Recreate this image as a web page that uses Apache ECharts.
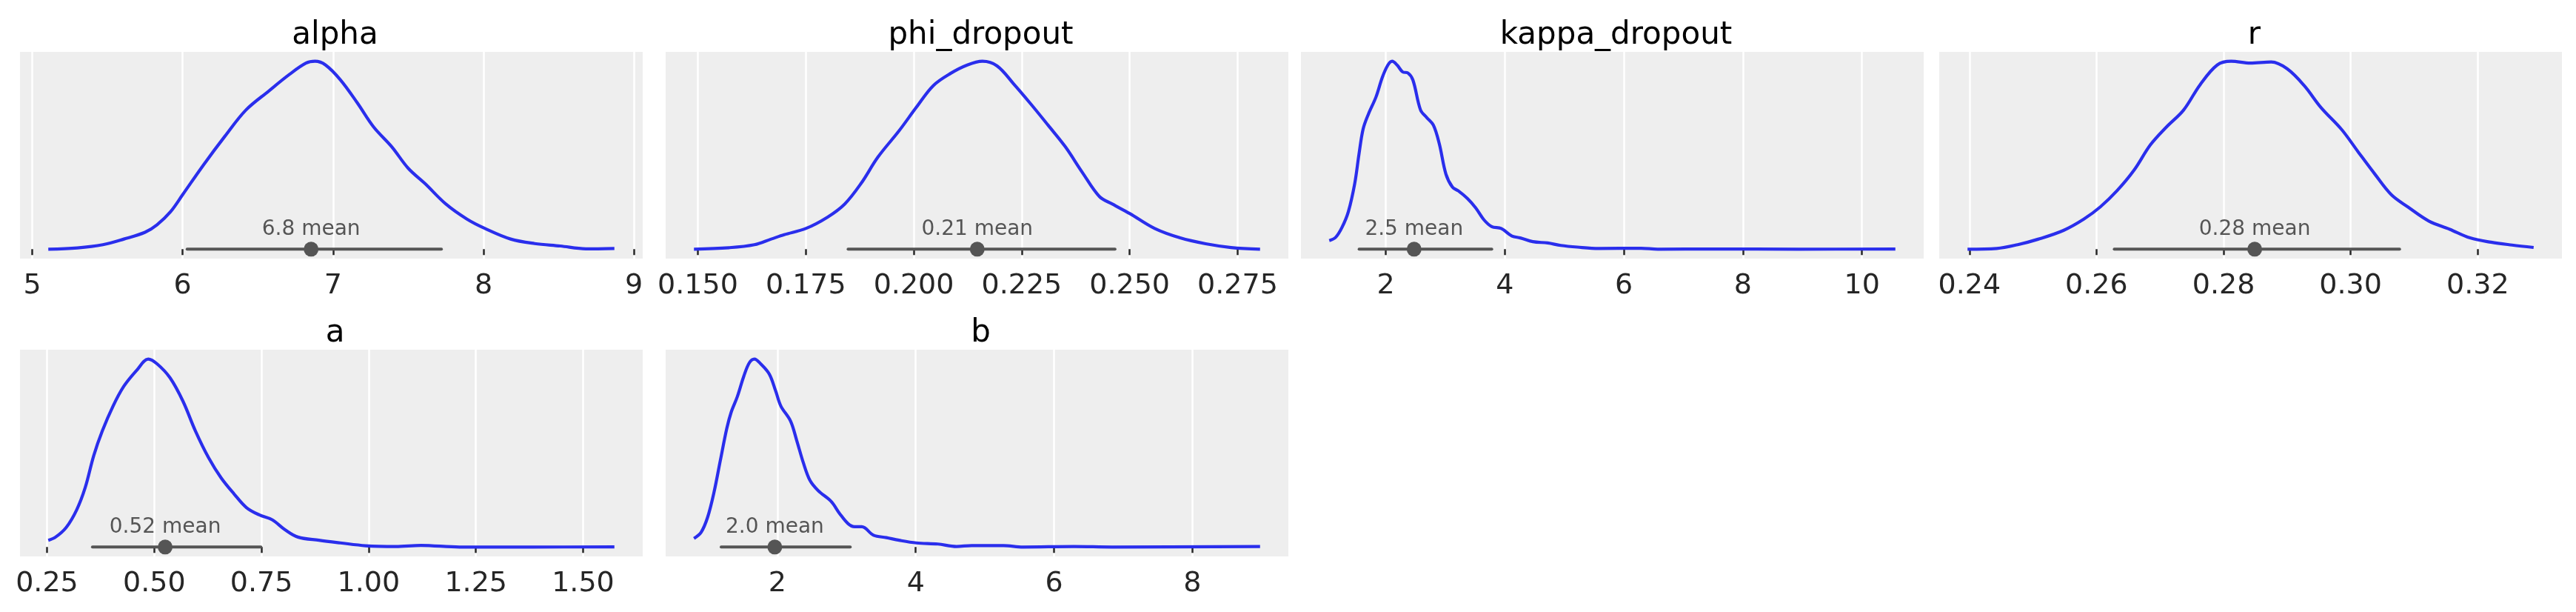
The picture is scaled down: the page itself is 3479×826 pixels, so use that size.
<!DOCTYPE html>
<html>
<head>
<meta charset="utf-8">
<title>posterior</title>
<script src="https://cdn.jsdelivr.net/npm/echarts@6.0.0/dist/echarts.min.js"></script>
<style>
  html,body{margin:0;padding:0;background:#fff;}
  #main{width:3479px;height:826px;}
</style>
</head>
<body>
<div id="main"></div>
<script>
// 后验密度曲线 (x, 归一化密度)
var alphaPts = [[5.107,0],[5.30,0.007],[5.47,0.024],[5.61,0.054],[5.75,0.09],[5.83,0.13],[5.92,0.20],[6.00,0.29],[6.14,0.45],[6.28,0.60],[6.42,0.74],[6.57,0.84],[6.71,0.93],[6.82,0.99],[6.88,1.0],[6.95,0.98],[7.05,0.90],[7.16,0.78],[7.27,0.65],[7.39,0.545],[7.50,0.43],[7.61,0.35],[7.75,0.24],[7.89,0.16],[8.01,0.11],[8.18,0.054],[8.34,0.03],[8.51,0.017],[8.68,0.002],[8.87,0.004]];
var phiPts = [[0.1491,0],[0.1572,0.008],[0.1631,0.024],[0.167,0.054],[0.170,0.077],[0.175,0.11],[0.180,0.17],[0.184,0.24],[0.1878,0.35],[0.1917,0.49],[0.1966,0.63],[0.2006,0.755],[0.2045,0.87],[0.2085,0.935],[0.2124,0.98],[0.2159,1.0],[0.2193,0.975],[0.2233,0.875],[0.2272,0.77],[0.2311,0.66],[0.2351,0.545],[0.239,0.41],[0.243,0.28],[0.246,0.24],[0.250,0.19],[0.2558,0.11],[0.2617,0.06],[0.2676,0.029],[0.2735,0.009],[0.2802,0]];
var kappaPts = [[1.051,0.046],[1.158,0.063],[1.265,0.116],[1.372,0.20],[1.479,0.35],[1.55,0.505],[1.62,0.64],[1.71,0.72],[1.836,0.81],[1.943,0.915],[2.036,0.98],[2.107,1.0],[2.19,0.98],[2.285,0.943],[2.37,0.938],[2.456,0.90],[2.585,0.74],[2.69,0.70],[2.80,0.66],[2.90,0.56],[3.01,0.40],[3.12,0.33],[3.22,0.31],[3.37,0.27],[3.51,0.22],[3.65,0.156],[3.78,0.12],[3.94,0.11],[4.12,0.07],[4.26,0.06],[4.47,0.04],[4.72,0.033],[4.94,0.02],[5.22,0.011],[5.58,0.004],[6.29,0.005],[6.57,0],[7.5,0.001],[8.93,0],[10.56,0.001]];
var rPts = [[0.2397,0],[0.2443,0.004],[0.2476,0.024],[0.2508,0.053],[0.2548,0.10],[0.258,0.16],[0.2606,0.225],[0.2632,0.31],[0.2659,0.42],[0.2685,0.556],[0.271,0.65],[0.2737,0.74],[0.2763,0.875],[0.279,0.98],[0.2812,1.0],[0.2842,0.99],[0.2875,0.996],[0.290,0.96],[0.2927,0.87],[0.2953,0.755],[0.2986,0.636],[0.3012,0.517],[0.3038,0.40],[0.3064,0.29],[0.309,0.225],[0.3123,0.15],[0.3156,0.106],[0.3188,0.06],[0.3221,0.037],[0.3254,0.022],[0.3288,0.009]];
var aPts = [[0.253,0.036],[0.27,0.053],[0.295,0.105],[0.319,0.197],[0.339,0.316],[0.359,0.487],[0.379,0.618],[0.404,0.75],[0.429,0.855],[0.459,0.94],[0.486,1.0],[0.507,0.974],[0.537,0.90],[0.567,0.776],[0.596,0.618],[0.627,0.474],[0.656,0.368],[0.686,0.283],[0.715,0.21],[0.745,0.171],[0.775,0.145],[0.805,0.092],[0.835,0.053],[0.884,0.036],[0.934,0.022],[0.993,0.007],[1.063,0.003],[1.122,0.009],[1.212,0],[1.38,0],[1.573,0.001]];
var bPts = [[0.793,0.046],[0.897,0.079],[0.99,0.158],[1.082,0.29],[1.174,0.46],[1.267,0.63],[1.33,0.716],[1.42,0.80],[1.513,0.908],[1.593,0.98],[1.667,1.0],[1.76,0.974],[1.883,0.92],[1.975,0.83],[2.05,0.75],[2.19,0.67],[2.28,0.566],[2.376,0.447],[2.47,0.355],[2.59,0.30],[2.776,0.243],[2.9,0.178],[3.02,0.125],[3.115,0.108],[3.22,0.108],[3.39,0.063],[3.577,0.05],[3.76,0.036],[4.008,0.022],[4.32,0.016],[4.59,0.003],[4.81,0.008],[5.27,0.008],[5.55,0],[6.29,0.003],[6.84,0],[8.98,0.003]];

// 参数名
var names = ['alpha','phi_dropout','kappa_dropout','r','a','b'];
// HDI 区间 / 均值
var hdiLow = [6.03, 0.1848, 1.553, 0.2628, 0.356, 1.187];
var hdiHigh = [7.72, 0.2466, 3.78, 0.3077, 0.7486, 3.053];
var means = [6.854, 0.2147, 2.476, 0.2849, 0.5255, 1.962];
var meanLabels = ['6.8 mean','0.21 mean','2.5 mean','0.28 mean','0.52 mean','2.0 mean'];
// 刻度
var alphaTicks = ['5','6','7','8','9'];
var phiTicks = ['0.150','0.175','0.200','0.225','0.250','0.275'];
var kappaTicks = ['2','4','6','8','10'];
var rTicks = ['0.24','0.26','0.28','0.30','0.32'];
var aTicks = ['0.25','0.50','0.75','1.00','1.25','1.50'];
var bTicks = ['2','4','6','8'];

var curves = [alphaPts, phiPts, kappaPts, rPts, aPts, bPts];
var tickSets = [alphaTicks, phiTicks, kappaTicks, rTicks, aTicks, bTicks];

// 布局
var boxLeft = [27, 899, 1757, 2619, 27, 899];
var boxTop = [70, 70, 70, 70, 472, 472];
var boxW = 841, boxH = 279;

var FONT = 'DejaVu Sans';
var blue = '#2a2eec', grey = '#555555', ink = '#262626';

var option = {
    animation: false,
    backgroundColor: '#ffffff',
    title: [], grid: [], xAxis: [], yAxis: [], series: []
};

for (var i = 0; i < names.length; i++) {
    var pts = curves[i];
    var x0 = pts[0][0], x1 = pts[pts.length - 1][0];
    var pad = (x1 - x0) * 0.05;
    var ticks = tickSets[i];
    var vals = ticks.map(function (t) { return parseFloat(t); });

    option.title.push({
        text: names[i],
        left: boxLeft[i] + boxW / 2,
        top: boxTop[i] - 48,
        textAlign: 'center',
        textStyle: { fontFamily: FONT, fontSize: 42, fontWeight: 'normal', color: '#000' }
    });
    option.grid.push({
        left: boxLeft[i], top: boxTop[i], width: boxW, height: boxH,
        show: true, backgroundColor: '#eeeeee', borderWidth: 0
    });
    option.xAxis.push({
        type: 'value', gridIndex: i, min: x0 - pad, max: x1 + pad,
        axisLine: { show: false },
        axisTick: { show: true, length: 8, lineStyle: { color: ink, width: 2.5 }, customValues: vals },
        axisLabel: {
            customValues: vals, margin: 18, fontSize: 38, color: ink, fontFamily: FONT,
            formatter: (function (tk, vs) {
                return function (v) {
                    for (var k = 0; k < vs.length; k++) {
                        if (Math.abs(vs[k] - v) < 1e-9) return tk[k];
                    }
                    return '';
                };
            })(ticks, vals)
        },
        splitLine: { show: true, lineStyle: { color: '#ffffff', width: 2.5 } }
    });
    option.yAxis.push({ type: 'value', gridIndex: i, min: -0.05, max: 1.05, show: false });

    option.series.push({
        type: 'line', xAxisIndex: i, yAxisIndex: i, data: pts,
        showSymbol: false, smooth: 0.35, z: 3,
        lineStyle: { color: blue, width: 4.2 }
    });
    option.series.push({
        type: 'line', xAxisIndex: i, yAxisIndex: i,
        data: [[hdiLow[i], 0], [hdiHigh[i], 0]],
        showSymbol: false, z: 4,
        lineStyle: { color: grey, width: 4, cap: 'round' }
    });
    option.series.push({
        type: 'scatter', xAxisIndex: i, yAxisIndex: i,
        data: [[means[i], 0]], symbolSize: 20, z: 5,
        itemStyle: { color: grey, opacity: 1 },
        label: {
            show: true, position: 'top', distance: 3,
            formatter: meanLabels[i],
            fontFamily: FONT, fontSize: 28, color: grey
        }
    });
}

var chart = echarts.init(document.getElementById('main'), null, { renderer: 'canvas' });
chart.setOption(option);
</script>
</body>
</html>
